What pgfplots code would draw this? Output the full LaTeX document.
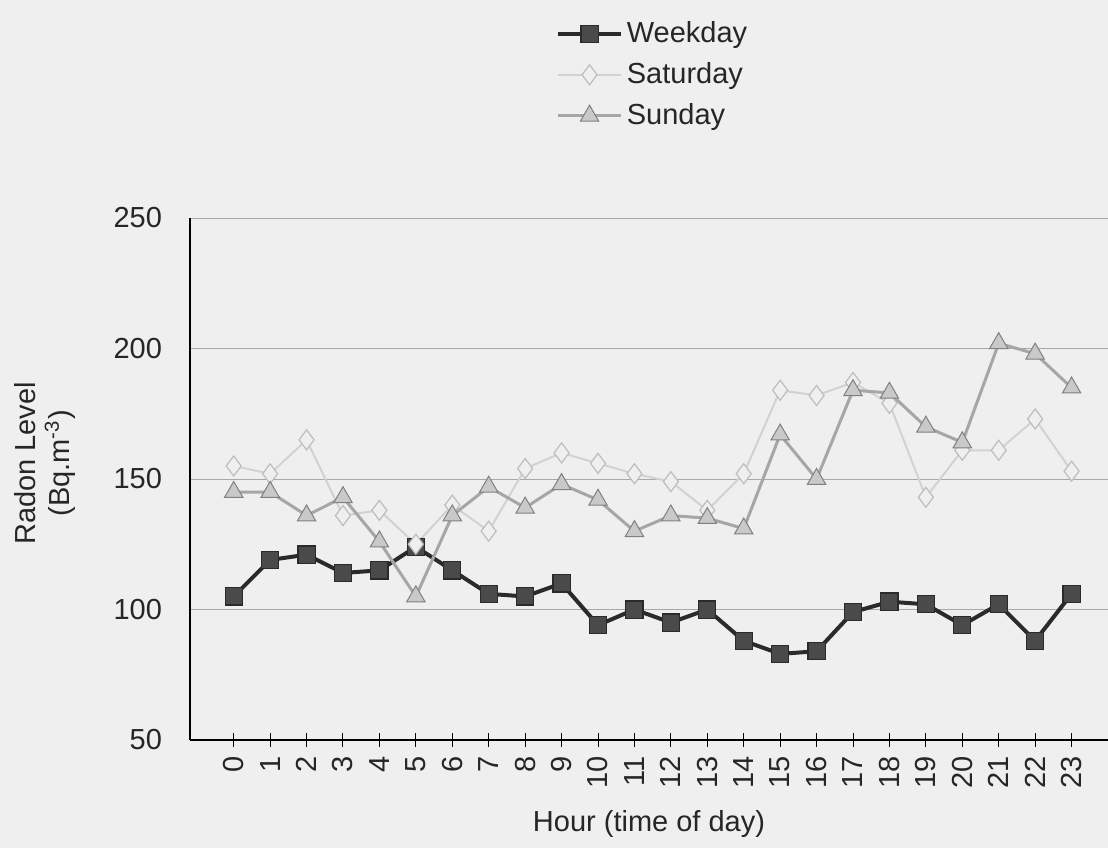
\documentclass[border=0pt]{standalone}
\usepackage{pgfplots}
\pgfplotsset{compat=1.18}
\usepackage{fontspec}
\setmainfont{Liberation Sans}
\usetikzlibrary{backgrounds}
\definecolor{bg}{HTML}{EFEFEF}
\definecolor{wk}{HTML}{2A2A2A}
\definecolor{sat}{HTML}{D2D2D2}
\definecolor{satm}{HTML}{BDBDBD}
\definecolor{sun}{HTML}{A6A6A6}
\definecolor{sunf}{HTML}{C9C9C9}
\definecolor{gridc}{HTML}{A8A8A8}

\begin{document}
\begin{tikzpicture}
\begin{axis}[
  name=ax, at={(0,0)}, anchor=south west,
  scale only axis, width=459pt, height=261pt,
  xmin=-1.2, xmax=24, ymin=50, ymax=250,
  xtick={0,...,23}, ytick={50,100,...,250},
  axis lines=left, axis line style={-, black, line width=0.8pt},
  ymajorgrids, grid style={gridc, line width=0.5pt},
  ytick style={draw=none},
  xtick style={black, line width=0.5pt},
  tick align=center, major tick length=7pt,
  /pgf/number format/assume math mode=true,
  tick label style={font=\fontsize{14.5}{17}\selectfont, text=black!85},
  xticklabel style={rotate=90, anchor=east, xshift=-1pt},
  yticklabel style={xshift=-7pt},
  label style={font=\fontsize{14.5}{17}\selectfont, text=black!85},
  xlabel={Hour (time of day)},
  xlabel style={at={(axis description cs:0.5,-0.16)}, anchor=center},
  ylabel={Radon Level\\(Bq.m\textsuperscript{-3})},
  ylabel style={at={(axis description cs:-0.158,0.53)}, anchor=center, align=center},
  legend style={at={(axis description cs:0.392,1.392)}, anchor=north west,
    draw=none, fill=none, row sep=4.5pt, font=\fontsize{14.5}{17}\selectfont,
    text=black!85, cells={anchor=west}},
  legend image code/.code={\draw[mark repeat=2, mark phase=2, #1]
    plot coordinates {(0cm,0cm) (0.55cm,0cm) (1.1cm,0cm)};},
]
\addplot[wk, line width=2pt, mark=square*, mark size=4.3pt,
  mark options={fill=wk!85, draw=wk, line width=0.6pt}]
coordinates {
(0,105) (1,119) (2,121) (3,114) (4,115) (5,124) (6,115) (7,106)
(8,105) (9,110) (10,94) (11,100) (12,95) (13,100) (14,88) (15,83)
(16,84) (17,99) (18,103) (19,102) (20,94) (21,102) (22,88) (23,106)
};
\addlegendentry{Weekday}
\addplot[sat, line width=1pt, mark=diamond*, mark size=5pt,
  mark options={fill=bg, draw=satm, line width=0.6pt}]
coordinates {
(0,155) (1,152) (2,165) (3,136) (4,138) (5,125) (6,140) (7,130)
(8,154) (9,160) (10,156) (11,152) (12,149) (13,138) (14,152) (15,184)
(16,182) (17,187) (18,179) (19,143) (20,161) (21,161) (22,173) (23,153)
};
\addlegendentry{Saturday}
\addplot[sun, line width=1.5pt, mark=triangle*, mark size=5.3pt,
  mark options={fill=sunf, draw=black!50, line width=0.5pt}]
coordinates {
(0,145) (1,145) (2,136) (3,143) (4,126) (5,105) (6,136) (7,147)
(8,139) (9,148) (10,142) (11,130) (12,136) (13,135) (14,131) (15,167)
(16,150) (17,184) (18,183) (19,170) (20,164) (21,202) (22,198) (23,185)
};
\addlegendentry{Sunday}
\end{axis}
\pgfresetboundingbox
\begin{scope}[on background layer]
\fill[bg] (-95pt,-54pt) rectangle (459pt,370pt);
\end{scope}
\useasboundingbox (-95pt,-54pt) rectangle (459pt,370pt);
\end{tikzpicture}
\end{document}
